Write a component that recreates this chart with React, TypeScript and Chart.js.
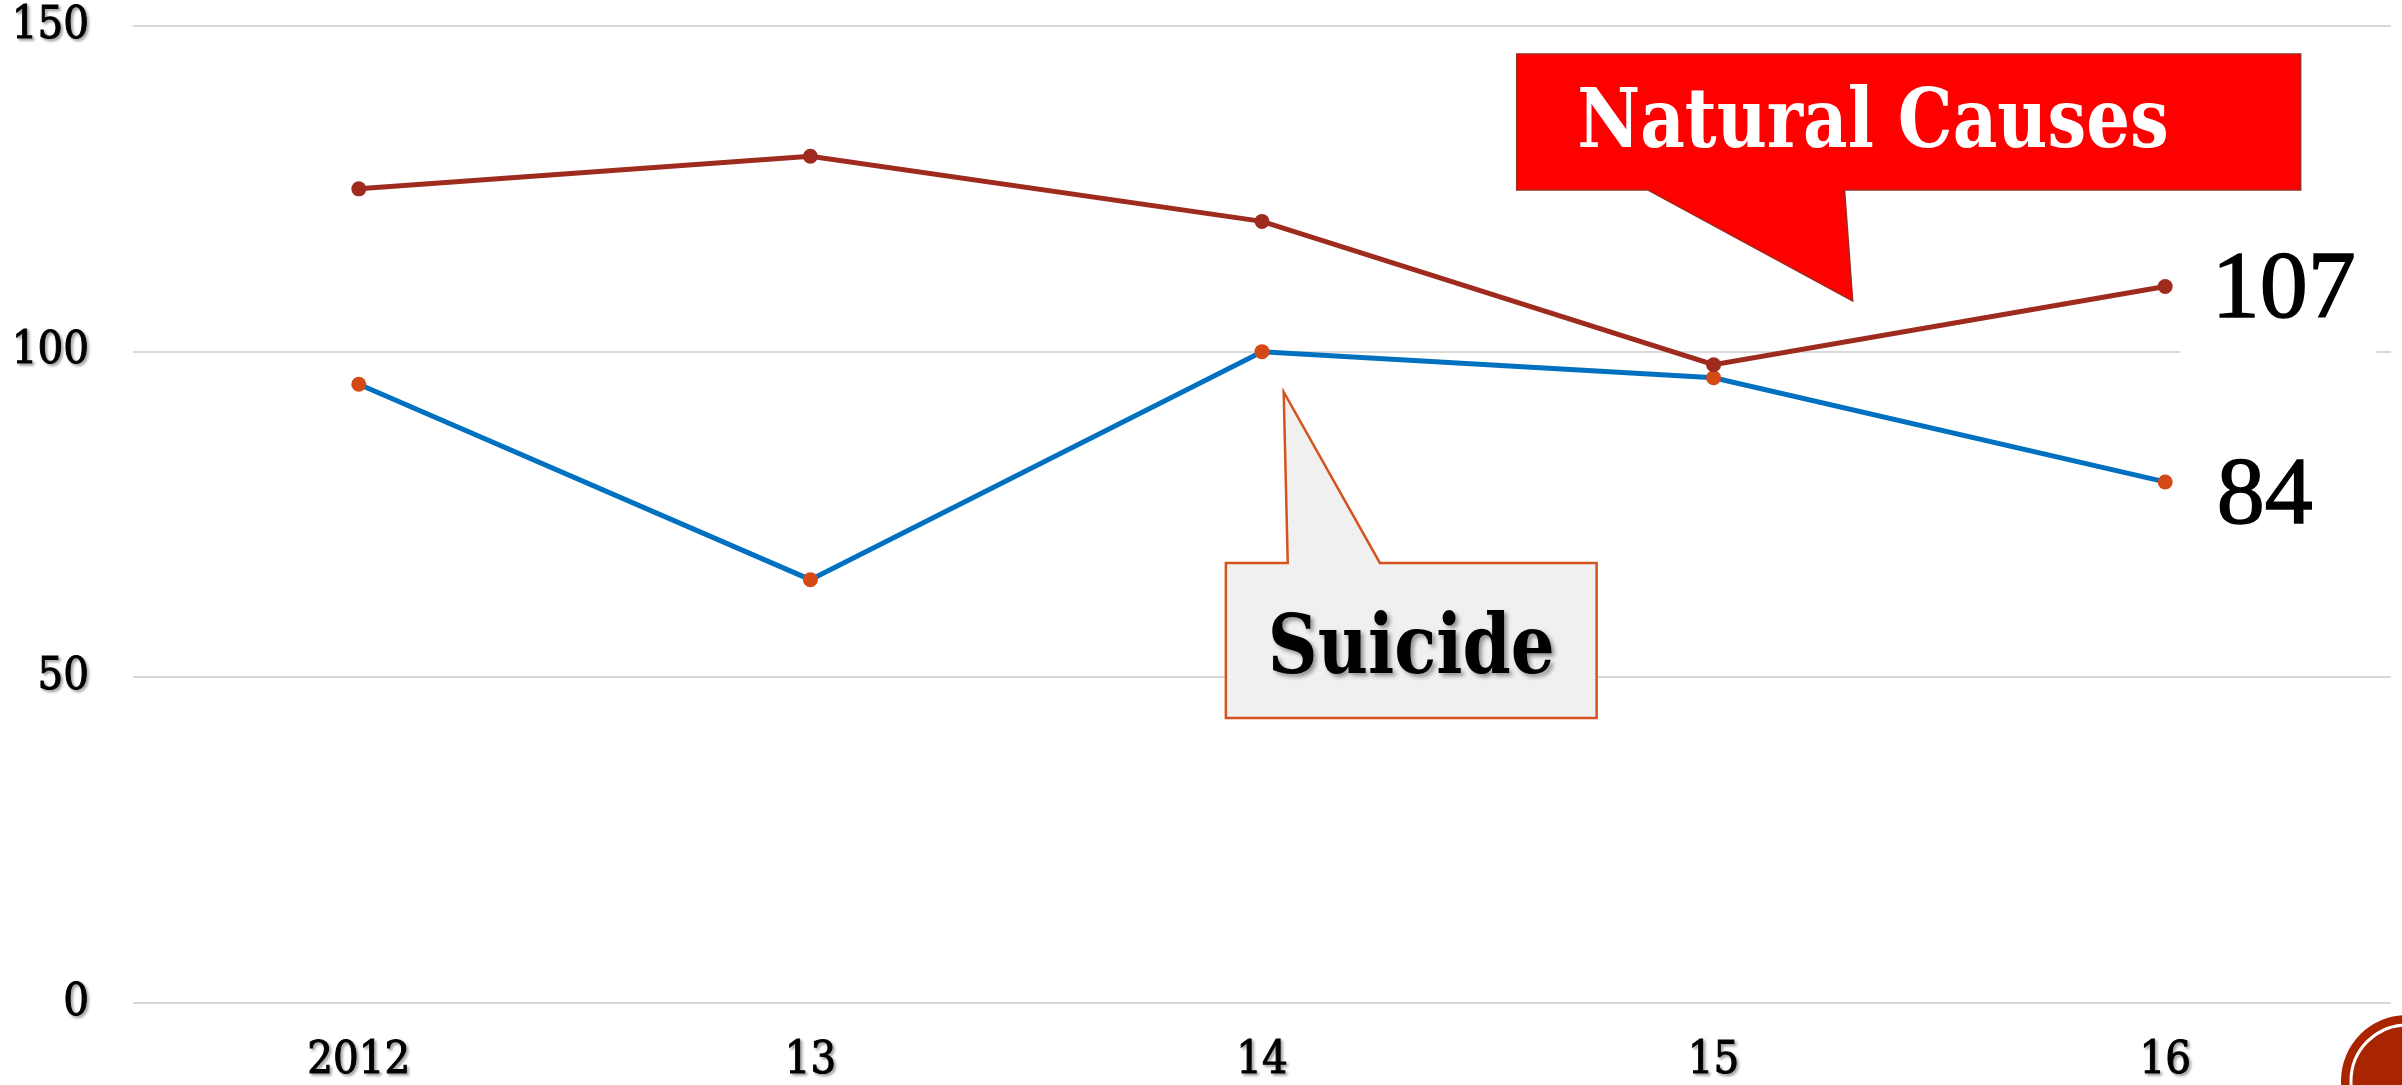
import React, { useEffect, useRef } from "react";
import { Chart, registerables } from "chart.js";

Chart.register(...registerables);

// ---- data ----
const YEARS = ["2012", "13", "14", "15", "16"];
const NATURAL_CAUSES = [125, 130, 120, 98, 110];
const SUICIDE = [95, 65, 100, 96, 80];
const Y_TICKS = [0, 50, 100, 150];
const END_LABELS = ["107", "84"];
const CALLOUT_TEXTS = ["Natural Causes", "Suicide"];

// ---- annotation geometry (in data space: category index, value) ----
const NATURAL_SHAPE: [number, number][] = [
  [2.564, 145.71], [4.3, 145.71], [4.3, 124.83], [3.29, 124.83],
  [3.308, 107.79], [2.854, 124.83], [2.564, 124.83],
];
const SUICIDE_SHAPE: [number, number][] = [
  [1.92, 67.56], [2.057, 67.56], [2.048, 93.81], [2.261, 67.56],
  [2.741, 67.56], [2.741, 43.76], [1.92, 43.76],
];

const SERIF = "'Liberation Serif', 'Times New Roman', serif";
const SLAB = "'DejaVu Serif', serif";
const TICK_FONT = "'DejaVu Serif Condensed', 'DejaVu Serif', serif";

const annotations = {
  id: "annotations",
  beforeDraw(chart: any) {
    Object.values(chart.scales).forEach((s: any) => {
      if (s.__patched) return;
      const orig = s.drawLabels;
      s.drawLabels = function (area: any) {
        const c = this.ctx;
        c.save();
        c.shadowColor = "rgba(0,0,0,0.35)";
        c.shadowBlur = 3;
        c.shadowOffsetX = 2;
        c.shadowOffsetY = 2;
        orig.call(this, area);
        c.restore();
      };
      s.__patched = true;
    });
  },
  beforeDatasetsDraw(chart: any) {
    const { ctx, scales } = chart;
    const X = (i: number) => scales.x.getPixelForValue(i);
    const Y = (v: number) => scales.y.getPixelForValue(v);
    ctx.save();
    ctx.fillStyle = "#ffffff";
    ctx.fillRect(X(4.034), Y(117), X(4.468) - X(4.034), Y(98) - Y(117));
    ctx.restore();
  },
  afterDatasetsDraw(chart: any) {
    const { ctx, scales } = chart;
    const X = (i: number) => scales.x.getPixelForValue(i);
    const Y = (v: number) => scales.y.getPixelForValue(v);

    const poly = (pts: [number, number][], fill: string, stroke: string, lw: number) => {
      ctx.save();
      ctx.beginPath();
      pts.forEach(([i, v], k) => (k === 0 ? ctx.moveTo(X(i), Y(v)) : ctx.lineTo(X(i), Y(v))));
      ctx.closePath();
      ctx.fillStyle = fill;
      ctx.fill();
      ctx.lineWidth = lw;
      ctx.strokeStyle = stroke;
      ctx.lineJoin = "miter";
      ctx.stroke();
      ctx.restore();
    };

    const fitText = (text: string, i0: number, i1: number, v: number, font: string, color: string, shadow: boolean) => {
      ctx.save();
      ctx.font = font;
      const w = ctx.measureText(text).width;
      const target = X(i1) - X(i0);
      ctx.translate(X(i0), Y(v));
      ctx.scale(target / w, 1);
      if (shadow) {
        ctx.shadowColor = "rgba(0,0,0,0.4)";
        ctx.shadowBlur = 4;
        ctx.shadowOffsetX = 3;
        ctx.shadowOffsetY = 3;
      }
      ctx.fillStyle = color;
      ctx.textBaseline = "alphabetic";
      ctx.textAlign = "left";
      ctx.fillText(text, 0, 0);
      ctx.restore();
    };

    poly(NATURAL_SHAPE, "#FF0000", "#9E2B1E", 1.5);
    fitText(CALLOUT_TEXTS[0], 2.698, 4.008, 131.42, `bold 82px ${SLAB}`, "#ffffff", false);

    poly(SUICIDE_SHAPE, "#F0F0F0", "#D4531F", 2.5);
    fitText(CALLOUT_TEXTS[1], 2.013, 2.648, 50.67, `bold 82px ${SLAB}`, "#000000", true);

    ctx.save();
    ctx.fillStyle = "#000";
    ctx.strokeStyle = "#000";
    ctx.lineWidth = 1.5;
    ctx.font = `96px ${SERIF}`;
    ctx.textBaseline = "alphabetic";
    ctx.textAlign = "left";
    const labelPos: [number, number][] = [[4.103, 105.33], [4.114, 73.7]];
    END_LABELS.forEach((t, k) => {
      const x = X(labelPos[k][0]);
      const y = Y(labelPos[k][1]);
      ctx.fillText(t, x, y);
      ctx.strokeText(t, x, y);
    });
    ctx.restore();
  },
  afterDraw(chart: any) {
    const { ctx } = chart;
    const cx = chart.width + 5;
    const cy = chart.height - 4;
    ctx.save();
    ctx.beginPath();
    ctx.arc(cx, cy, 66, 0, Math.PI * 2);
    ctx.fillStyle = "#A92500";
    ctx.fill();
    ctx.beginPath();
    ctx.arc(cx, cy, 56, 0, Math.PI * 2);
    ctx.strokeStyle = "#ffffff";
    ctx.lineWidth = 3;
    ctx.stroke();
    ctx.restore();
  },
};

export default function App() {
  const ref = useRef<HTMLCanvasElement | null>(null);

  useEffect(() => {
    document.body.style.margin = "0";
    const canvas = ref.current!;
    const chart = new Chart(canvas, {
      type: "line",
      data: {
        labels: YEARS,
        datasets: [
          {
            label: "Natural Causes",
            data: NATURAL_CAUSES,
            borderColor: "#9E2B1E",
            backgroundColor: "#9E2B1E",
            pointBackgroundColor: "#9E2B1E",
            pointBorderColor: "#9E2B1E",
            pointBorderWidth: 0,
            pointRadius: 7.5,
            borderWidth: 5,
            tension: 0,
          },
          {
            label: "Suicide",
            data: SUICIDE,
            borderColor: "#0070C0",
            backgroundColor: "#0070C0",
            pointBackgroundColor: "#D34A17",
            pointBorderColor: "#D34A17",
            pointBorderWidth: 0,
            pointRadius: 7.5,
            borderWidth: 5,
            tension: 0,
          },
        ],
      },
      options: {
        responsive: false,
        animation: false,
        events: [],
        layout: { padding: { left: 0, right: 11, top: 26, bottom: 0 } },
        plugins: { legend: { display: false }, tooltip: { enabled: false } },
        scales: {
          x: {
            offset: true,
            grid: { display: false, drawTicks: false },
            border: { display: false },
            ticks: {
              font: { family: TICK_FONT, size: 45, lineHeight: 1 },
              color: "#000",
              textStrokeColor: "#000",
              textStrokeWidth: 1,
              padding: 36,
              maxRotation: 0,
              autoSkip: false,
            },
            afterFit: (s: any) => {
              s.height = 82;
              s.paddingLeft = 0;
              s.paddingRight = 0;
            },
          },
          y: {
            min: 0,
            max: 150,
            afterBuildTicks: (s: any) => {
              s.ticks = Y_TICKS.map((v) => ({ value: v }));
            },
            grid: { color: "#D9D9D9", lineWidth: 2, drawTicks: false },
            border: { display: false },
            ticks: {
              font: { family: TICK_FONT, size: 45, lineHeight: 1 },
              color: "#000",
              textStrokeColor: "#000",
              textStrokeWidth: 1,
              padding: 44,
            },
            afterFit: (s: any) => {
              s.width = 133;
              s.paddingTop = 0;
              s.paddingBottom = 0;
            },
          },
        },
      },
      plugins: [annotations],
    } as any);
    return () => chart.destroy();
  }, []);

  return (
    <div style={{ position: "absolute", left: 0, top: 0, width: 2402, height: 1085, background: "#fff" }}>
      <canvas ref={ref} width={2402} height={1085} style={{ display: "block", width: 2402, height: 1085 }} />
    </div>
  );
}
